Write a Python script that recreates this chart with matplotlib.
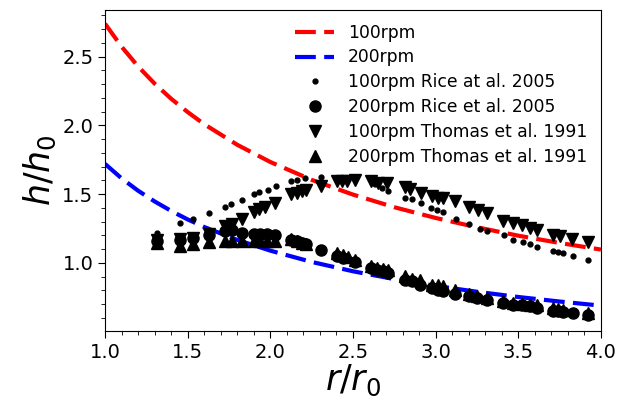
import matplotlib
matplotlib.use("Agg")
import matplotlib.pyplot as plt
from matplotlib.ticker import MultipleLocator

# Model curves
r_curve = [1.0, 1.1, 1.2, 1.3, 1.4, 1.5, 1.6, 1.8, 2.0, 2.25, 2.5, 2.75, 3.0, 3.25, 3.5, 3.75, 4.0]
h_100 = [2.740, 2.573, 2.429, 2.304, 2.194, 2.097, 2.009, 1.859, 1.734, 1.604, 1.497, 1.405, 1.327, 1.259, 1.198, 1.145, 1.097]
h_200 = [1.720, 1.615, 1.525, 1.447, 1.378, 1.316, 1.261, 1.167, 1.089, 1.007, 0.939, 0.882, 0.833, 0.790, 0.752, 0.719, 0.689]

# 100rpm Rice et al. 2005 (small dots)
rice100_r = [1.313, 1.454, 1.534, 1.629, 1.726, 1.762, 1.831, 1.903, 1.934, 1.988, 2.032,
             2.123, 2.159, 2.21, 2.305, 2.40, 2.45, 2.633, 2.674, 2.714, 2.815, 2.855, 2.912,
             2.972, 3.01, 3.047, 3.121, 3.204, 3.269, 3.309, 3.414, 3.47, 3.527, 3.571, 3.611,
             3.708, 3.742, 3.773, 3.829, 3.924]
rice100_h = [1.219, 1.287, 1.316, 1.36, 1.406, 1.425, 1.46, 1.498, 1.515, 1.53, 1.559,
             1.596, 1.603, 1.62, 1.627, 1.62, 1.61, 1.572, 1.545, 1.523, 1.474, 1.462, 1.433,
             1.396, 1.382, 1.367, 1.323, 1.28, 1.25, 1.231, 1.202, 1.17, 1.153, 1.134, 1.117,
             1.09, 1.08, 1.07, 1.053, 1.024]

# 200rpm Rice et al. 2005 (circles)
rice200_r = [1.313, 1.454, 1.534, 1.629, 1.726, 1.766, 1.831, 1.903, 1.938, 1.978, 2.028,
             2.123, 2.16, 2.19, 2.214, 2.305, 2.405, 2.442, 2.512, 2.607, 2.643, 2.684, 2.714,
             2.815, 2.855, 2.906, 2.976, 3.017, 3.047, 3.117, 3.204, 3.248, 3.309,
             3.41, 3.47, 3.52, 3.571, 3.611, 3.708, 3.742, 3.773, 3.829, 3.924]
rice200_h = [1.158, 1.163, 1.182, 1.202, 1.231, 1.236, 1.219, 1.212, 1.212, 1.207, 1.202,
             1.17, 1.158, 1.146, 1.134, 1.097, 1.049, 1.036, 1.007, 0.964, 0.951, 0.939, 0.927,
             0.878, 0.866, 0.842, 0.818, 0.805, 0.798, 0.774, 0.757, 0.745, 0.73,
             0.708, 0.696, 0.691, 0.684, 0.672, 0.652, 0.647, 0.643, 0.635, 0.618]

# 100rpm Thomas et al. 1991 (down triangles)
thomas100_r = [1.313, 1.454, 1.53, 1.629, 1.726, 1.766, 1.831, 1.903, 1.934, 1.968, 2.028,
               2.123, 2.16, 2.19, 2.214, 2.305, 2.405, 2.436, 2.466, 2.512, 2.607, 2.654, 2.704,
               2.815, 2.845, 2.912, 2.976, 3.013, 3.047, 3.117, 3.204, 3.258, 3.309,
               3.41, 3.47, 3.52, 3.571, 3.611, 3.708, 3.753, 3.823, 3.924]
thomas100_h = [1.17, 1.175, 1.18, 1.207, 1.268, 1.28, 1.316, 1.372, 1.389, 1.408, 1.438,
               1.498, 1.511, 1.523, 1.53, 1.559, 1.596, 1.596, 1.596, 1.603, 1.596, 1.584, 1.579,
               1.554, 1.54, 1.511, 1.486, 1.474, 1.469, 1.45, 1.408, 1.384, 1.365,
               1.304, 1.287, 1.275, 1.255, 1.238, 1.202, 1.195, 1.175, 1.153]

# 200rpm Thomas et al. 1991 (up triangles)
thomas200_r = [1.313, 1.454, 1.534, 1.629, 1.726, 1.766, 1.831, 1.903, 1.938, 1.978, 2.028,
               2.123, 2.16, 2.19, 2.214, 2.405, 2.442, 2.472, 2.512, 2.607, 2.643, 2.684, 2.714,
               2.815, 2.855, 2.906, 2.976, 3.017, 3.047, 3.117, 3.204, 3.248, 3.309,
               3.41, 3.47, 3.52, 3.571, 3.611, 3.708, 3.742, 3.773, 3.924]
thomas200_h = [1.146, 1.122, 1.134, 1.153, 1.158, 1.158, 1.158, 1.16, 1.16, 1.16, 1.16,
               1.175, 1.158, 1.146, 1.134, 1.073, 1.061, 1.044, 1.024, 0.976, 0.964, 0.959, 0.951,
               0.903, 0.886, 0.878, 0.842, 0.837, 0.83, 0.805, 0.774, 0.757, 0.745,
               0.72, 0.708, 0.701, 0.696, 0.691, 0.672, 0.665, 0.655, 0.635]

fig = plt.figure(figsize=(6.33, 4.0), dpi=100)
ax = fig.add_axes([0.166, 0.173, 0.7834, 0.802])

ax.plot(r_curve, h_100, color='red', lw=3, dashes=(5, 2), label='100rpm')
ax.plot(r_curve, h_200, color='blue', lw=3, dashes=(5, 2), label='200rpm')
ax.plot(rice100_r, rice100_h, 'o', color='black', ms=3.5, ls='none', label='100rpm Rice at al. 2005')
ax.plot(rice200_r, rice200_h, 'o', color='black', ms=8, ls='none', label='200rpm Rice et al. 2005')
ax.plot(thomas100_r, thomas100_h, 'v', color='black', ms=8, ls='none', label='100rpm Thomas et al. 1991')
ax.plot(thomas200_r, thomas200_h, '^', color='black', ms=8, ls='none', label='200rpm Thomas et al. 1991')

ax.set_xlim(1.0, 4.0)
ax.set_ylim(0.506, 2.84)
ax.xaxis.set_major_locator(MultipleLocator(0.5))
ax.xaxis.set_minor_locator(MultipleLocator(0.1))
ax.yaxis.set_major_locator(MultipleLocator(0.5))
ax.yaxis.set_minor_locator(MultipleLocator(0.1))
ax.tick_params(axis='both', which='major', labelsize=14, length=5)
ax.tick_params(axis='both', which='minor', length=3)

ax.set_xlabel(r'$r/r_0$', fontsize=25, labelpad=1)
ax.set_ylabel(r'$h/h_0$', fontsize=25, labelpad=3)

ax.legend(loc='upper right', frameon=False, fontsize=12.3, labelspacing=0.4,
          borderaxespad=0.4, handlelength=2.3)

fig.savefig('out.png', dpi=100)
